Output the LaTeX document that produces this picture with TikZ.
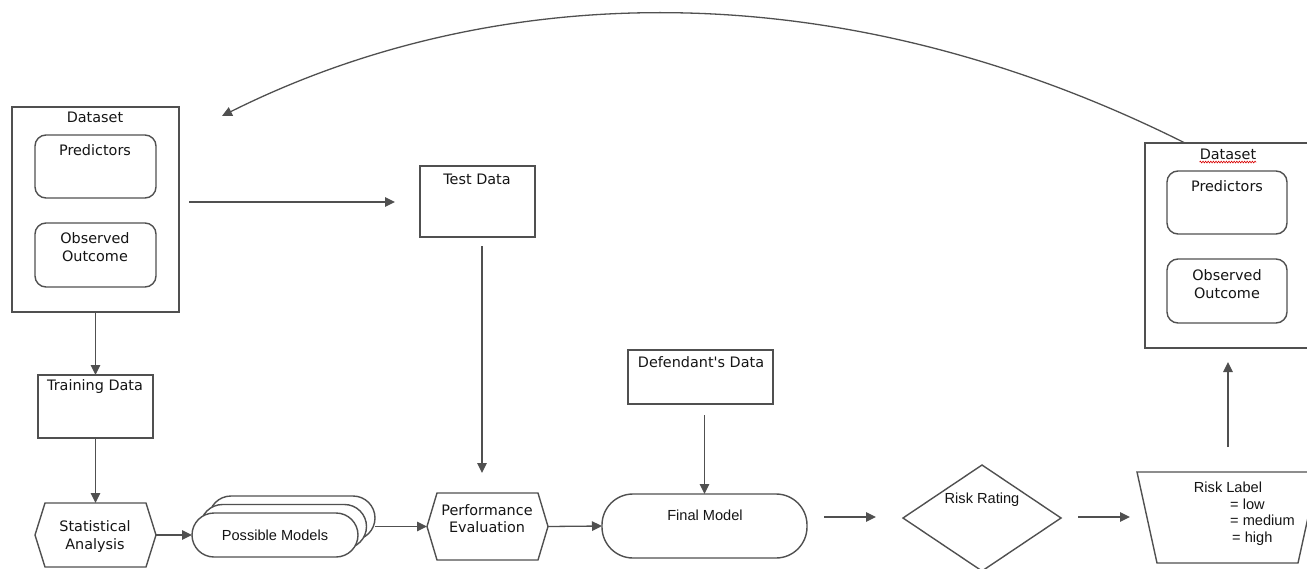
\documentclass[tikz,border=0pt]{standalone}
\usepackage{fontspec}
\setmainfont{DejaVu Sans}[Ligatures=TeXOff]
\newfontfamily\arialfont{Liberation Sans}
\usetikzlibrary{arrows.meta,calc,decorations.pathmorphing}
\definecolor{edge}{HTML}{505050}
\definecolor{ink}{HTML}{151515}
\tikzset{
  boxshape/.style={draw=edge, line width=1.4pt, fill=white, inner sep=0pt, outer sep=0pt},
  roundbox/.style={boxshape, rounded corners=11pt},
  pillbox/.style={boxshape},
  ghost/.style={inner sep=0pt, outer sep=0pt},
  vlabel/.style={font=\fontsize{14.4}{18}\selectfont, text=ink, inner sep=0pt, align=center},
  alabel/.style={font=\arialfont\fontsize{14.6}{16.7}\selectfont, text=ink, inner sep=0pt, align=center},
  flow/.style={draw=edge, line width=1.3pt, -{Triangle[length=10pt,width=9.5pt]}},
  outline/.style={draw=edge, line width=1.4pt, fill=white, line join=miter},
}
\begin{document}
\begin{tikzpicture}[x=1pt, y=-1pt]
\useasboundingbox (0,0) rectangle (1307,568);
\clip (0,0) rectangle (1307,568);

% ---- left dataset ----
\node[boxshape, minimum width=167, minimum height=205] (dsL) at (95.5,209.5) {};
\node[roundbox, minimum width=121, minimum height=63] (predL) at (95.5,166.5) {};
\node[roundbox, minimum width=121, minimum height=64] (obsL) at (95.5,255) {};
\node[vlabel] (dsLt) at (95,117) {Dataset};
\node[vlabel] (predLt) at (95,150) {Predictors};
\node[vlabel] (obsLt) at (95,247) {Observed\\Outcome};

% ---- training data ----
\node[boxshape, minimum width=115, minimum height=63] (train) at (95.5,406.5) {};
\node[vlabel] (traint) at (95,387) {Training Data};

% ---- statistical analysis (hexagon) ----
\node[ghost, minimum width=121, minimum height=64] (stat) at (95.5,535) {};
\draw[outline] ($(stat.north west)+(10,0)$) -- ($(stat.north east)+(-10,0)$) -- (stat.east)
  -- ($(stat.south east)+(-10,0)$) -- ($(stat.south west)+(10,0)$) -- (stat.west) -- cycle;
\node[vlabel] (statt) at (95,537) {Statistical\\Analysis};

% ---- possible models (stack of pills) ----
\node[pillbox, rounded corners=22pt, minimum width=166, minimum height=44] (pmback) at (292,518) {};
\node[pillbox, rounded corners=22pt, minimum width=166, minimum height=44] (pmmid) at (283.5,526.5) {};
\node[pillbox, rounded corners=22pt, minimum width=166, minimum height=44] (pmfront) at (275,535) {};
\node[alabel] (pmt) at (275,535) {Possible Models};

% ---- test data ----
\node[boxshape, minimum width=115, minimum height=71] (test) at (477.5,201.5) {};
\node[vlabel] (testt) at (477,179) {Test Data};

% ---- performance evaluation (hexagon) ----
\node[ghost, minimum width=121, minimum height=67] (perf) at (487.5,526.5) {};
\draw[outline] ($(perf.north west)+(10,0)$) -- ($(perf.north east)+(-10,0)$) -- (perf.east)
  -- ($(perf.south east)+(-10,0)$) -- ($(perf.south west)+(10,0)$) -- (perf.west) -- cycle;
\node[vlabel, font=\fontsize{14.4}{17}\selectfont] (perft) at (487,518.5) {Performance\\Evaluation};

% ---- defendant's data and final model ----
\node[boxshape, minimum width=145, minimum height=54] (def) at (700.5,377) {};
\node[vlabel] (deft) at (701,362) {Defendant's Data};
\node[pillbox, rounded corners=31pt, minimum width=205, minimum height=64] (final) at (704.5,526) {};
\node[alabel] (finalt) at (705,515) {Final Model};

% ---- risk rating (diamond) ----
\node[ghost, minimum width=158, minimum height=106] (rate) at (982,518) {};
\draw[outline] (rate.west) -- (rate.north) -- (rate.east) -- (rate.south) -- cycle;
\node[alabel] (ratet) at (982,500) {Risk Rating};

% ---- risk label (trapezium) ----
\node[ghost, minimum width=181, minimum height=91] (lab) at (1227.5,517.5) {};
\draw[outline] (lab.north west) -- (lab.north east) -- ($(lab.south east)+(-20,0)$)
  -- ($(lab.south west)+(20,0)$) -- cycle;
\node[alabel] (labt) at (1228,487) {Risk Label};
\node[alabel, anchor=north west, align=left] (labv) at (1230,498.5) {= low\\= medium\\\hspace*{2pt}= high};

% ---- right dataset ----
\node[boxshape, minimum width=164, minimum height=205] (dsR) at (1227,245.5) {};
\node[roundbox, minimum width=120, minimum height=63] (predR) at (1227,202.5) {};
\node[roundbox, minimum width=120, minimum height=64] (obsR) at (1227,291) {};
\node[vlabel] (dsRt) at (1228,154) {Dataset};
\draw[red!85!black, line width=0.6pt, decorate,
  decoration={snake, amplitude=0.9pt, segment length=2.6pt}]
  ($(dsRt.south west)+(0,2.5)$) -- ($(dsRt.south east)+(0,2.5)$);
\node[vlabel] (predRt) at (1227,186) {Predictors};
\node[vlabel] (obsRt) at (1227,284) {Observed\\Outcome};

% ---- free connector ends ----
\coordinate (splitA) at (189,202);
\coordinate (splitB) at (395,202);
\coordinate (testA) at (482,246);
\coordinate (testB) at (482,473);
\coordinate (finA) at (824,517);
\coordinate (finB) at (876,517);
\coordinate (rateA) at (1078,517);
\coordinate (rateB) at (1130,517);
\coordinate (labA) at (1228,447);
\coordinate (labB) at (1228,362);
\coordinate (loopEnd) at (222,116);

% ---- connectors ----
\draw[flow] (dsL.south) -- (train.north);
\draw[flow] (train.south) -- (stat.north);
\draw[flow] (stat.east) -- (pmfront.west);
\draw[flow] (pmback.east |- perf.west) -- (perf.west);
\draw[flow] (perf.east) -- (final.west);
\draw[flow] ($(def.south -| final.north)+(0,11)$) -- (final.north);
\draw[flow] (splitA) -- (splitB);
\draw[flow] (testA) -- (testB);
\draw[flow] (finA) -- (finB);
\draw[flow] (rateA) -- (rateB);
\draw[flow] (labA) -- (labB);
\draw[flow] ($(dsR.north)+(-42,0)$) .. controls (831,-34) and (488,-17) .. (loopEnd);
\end{tikzpicture}
\end{document}
